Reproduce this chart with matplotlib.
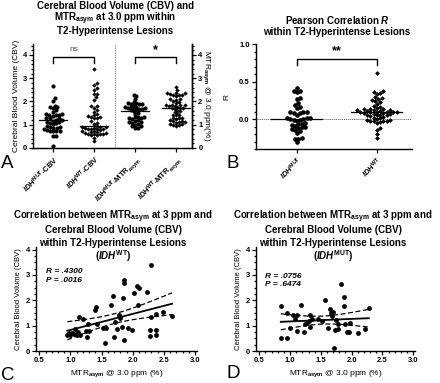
import numpy as np
import matplotlib
matplotlib.use("Agg")
import matplotlib.pyplot as plt
from matplotlib.ticker import MultipleLocator, FormatStrFormatter

plt.rcParams['font.family'] = ['Liberation Sans', 'DejaVu Sans']
plt.rcParams['font.weight'] = 'bold'
plt.rcParams['mathtext.fontset'] = 'custom'
plt.rcParams['mathtext.rm'] = 'Liberation Sans:bold'
plt.rcParams['mathtext.it'] = 'Liberation Sans:bold:italic'
plt.rcParams['mathtext.bf'] = 'Liberation Sans:bold'

# IDH wild type lesions: MTRasym (%) vs CBV
wt_mtr = [0.95, 0.97, 1.00, 1.02, 1.05, 1.08, 1.10, 1.12, 1.15, 1.14, 1.20, 1.25, 1.27,
          1.28, 1.30, 1.40, 1.41, 1.43, 1.52, 1.55, 1.57, 1.68, 1.65, 1.70, 1.72, 1.74,
          1.78, 1.79, 1.82, 1.84, 1.86, 1.86, 1.86, 1.93, 1.98, 2.02, 2.06, 2.10, 2.09,
          2.22, 2.29, 2.30, 2.28, 2.28, 2.37, 2.37, 2.37, 2.49, 2.63]
wt_cbv = [0.62, 0.70, 0.65, 0.72, 0.68, 0.88, 0.62, 0.75, 0.62, 1.35, 1.28, 0.80, 0.55,
          1.05, 0.78, 1.62, 1.72, 1.08, 0.92, 0.32, 0.90, 2.18, 1.80, 0.55, 1.15, 0.85,
          1.42, 1.30, 0.95, 2.07, 2.80, 2.70, 0.45, 0.92, 0.82, 2.30, 2.58, 2.50, 1.80,
          2.33, 3.40, 1.35, 0.83, 0.60, 0.83, 0.65, 1.44, 1.55, 1.38]

# IDH mutant lesions: MTRasym (%) vs CBV
mut_mtr = [0.85, 0.85, 0.95, 0.95, 1.00, 1.05, 1.08, 1.12, 1.12, 1.18, 1.22, 1.25, 1.28,
           1.30, 1.33, 1.35, 1.32, 1.45, 1.52, 1.57, 1.62, 1.65, 1.67, 1.68, 1.70, 1.72,
           1.73, 1.75, 1.78, 1.78, 1.83, 1.87, 1.88, 1.90, 1.92, 1.95, 1.98, 2.10, 2.22, 2.28]
mut_cbv = [1.77, 0.50, 0.52, 1.48, 0.92, 1.42, 1.28, 1.40, 0.77, 1.82, 0.75, 1.05, 1.10,
           1.20, 1.40, 1.28, 0.95, 1.28, 1.18, 2.02, 0.92, 1.65, 1.48, 1.38, 1.55, 0.10,
           0.82, 1.22, 0.88, 1.08, 2.65, 2.13, 1.77, 1.08, 0.75, 0.75, 1.10, 0.72, 0.88, 1.70]

# Pearson R per patient
r_mut = [0.41, 0.37, 0.36, 0.38, 0.28, 0.27, 0.21, 0.19, 0.16, 0.15, 0.10, 0.08, 0.06, 0.09,
         0.08, 0.10, 0.01, 0.00, -0.01, 0.02, -0.01, 0.00, 0.01, -0.02, -0.05, -0.08, -0.10,
         -0.12, -0.07, -0.09, -0.13, -0.11, -0.14, -0.06, -0.18, -0.16, -0.26, -0.27, -0.25, -0.31]
r_wt = [0.62, 0.36, 0.35, 0.37, 0.34, 0.30, 0.28, 0.27, 0.25, 0.24, 0.23, 0.20, 0.18, 0.16,
        0.15, 0.14, 0.13, 0.12, 0.12, 0.11, 0.10, 0.10, 0.10, 0.09, 0.09, 0.08, 0.08, 0.07,
        0.06, 0.06, 0.05, 0.05, 0.04, 0.03, 0.02, 0.01, 0.00, -0.01, -0.02, -0.02, -0.03,
        -0.03, -0.04, -0.05, -0.12, -0.15, -0.20, -0.25, 0.13, 0.11, 0.09, 0.07, 0.12, -0.01]

a_labels = [r"$\mathit{IDH}^{\mathrm{MUT}}$-CBV", r"$\mathit{IDH}^{\mathrm{WT}}$-CBV",
            r"$\mathit{IDH}^{\mathrm{MUT}}$-MTR$_{\mathrm{asym}}$",
            r"$\mathit{IDH}^{\mathrm{WT}}$-MTR$_{\mathrm{asym}}$"]
b_labels = [r"$\mathit{IDH}^{\mathrm{MUT}}$", r"$\mathit{IDH}^{\mathrm{WT}}$"]

W, H = 440, 383
fig = plt.figure(figsize=(W / 100, H / 100), dpi=100)


def box(l, t, r, b):
    return [l / W, 1 - b / H, (r - l) / W, (b - t) / H]


def style(ax, fs=5.5):
    ax.spines['top'].set_visible(False)
    ax.spines['right'].set_visible(False)
    for s in ax.spines.values():
        s.set_linewidth(1.0)
    ax.tick_params(which='both', direction='out', width=0.9, labelsize=fs, pad=1.5)
    ax.tick_params(which='major', length=3)
    ax.tick_params(which='minor', length=1.6)


def swarm(ax, x0, vals, d):
    vals = np.asarray(vals, float)
    pts = ax.transData.transform(np.column_stack([np.full(len(vals), x0), vals]))
    placed = []
    xs = np.zeros(len(vals))
    for i in np.argsort(vals):
        px, py = pts[i]
        cx = px
        for k in range(60):
            ok = False
            for s in ([0] if k == 0 else [k, -k]):
                cx = px + s * d * 0.5
                if all((cx - qx) ** 2 + (py - qy) ** 2 >= d * d for qx, qy in placed):
                    ok = True
                    break
            if ok:
                break
        placed.append((cx, py))
        xs[i] = cx
    return ax.transData.inverted().transform(np.column_stack([xs, pts[:, 1]]))[:, 0]


def bracket(ax, x1, x2, y, drop, txt, ty, fs, weight='bold', color='k'):
    ax.plot([x1, x1, x2, x2], [y - drop, y, y, y - drop], color='k', lw=1.0, clip_on=False)
    ax.text((x1 + x2) / 2, ty, txt, ha='center', va='center', fontsize=fs,
            fontweight=weight, color=color)


def title_lines(xc, lines, ys):
    for txt, y in zip(lines, ys):
        fig.text(xc / W, 1 - y / H, txt, ha='center', va='center', fontsize=7,
                 fontweight='bold')


# ---- A ----
axA = fig.add_axes(box(33, 44, 192, 148))
axA.set_xlim(-0.49, 3.39)
axA.set_ylim(0, 4.47)
style(axA)
axA.spines['right'].set_visible(True)
axA.set_yticks(range(5))
axA.yaxis.set_minor_locator(MultipleLocator(0.2))
axA.set_xticks(range(4))
axA.set_xticklabels(a_labels, rotation=45, ha='right', rotation_mode='anchor', fontsize=5.5)
axA.set_ylabel("Cerebral Blood Volume (CBV)", fontsize=6, labelpad=2)
axA2 = axA.twinx()
axA2.set_ylim(0, 4.47)
axA2.spines['top'].set_visible(False)
axA2.spines['left'].set_visible(False)
axA2.spines['right'].set_linewidth(1.0)
axA2.set_yticks(range(5))
axA2.yaxis.set_minor_locator(MultipleLocator(0.2))
axA2.tick_params(which='both', direction='out', width=0.9, labelsize=5.5, pad=1.5)
axA2.tick_params(which='major', length=3)
axA2.tick_params(which='minor', length=1.6)
axA2.set_ylabel(r"MTR$_{\mathrm{asym}}$ @ 3.0 ppm(%)", fontsize=6, rotation=270, labelpad=7)
axA.axvline(1.5, color='#9a9a9a', lw=0.8, ls=(0, (1, 0.6)))

groups = [mut_cbv, wt_cbv, mut_mtr, wt_mtr]
markers = ['o', 'D', 'o', 'D']
sizes = [9, 5, 9, 5]
for i, g in enumerate(groups):
    xs = swarm(axA, i, g, 2.9)
    axA.scatter(xs, g, s=sizes[i], marker=markers[i], color='k', lw=0, zorder=3)
    m = np.median(g)
    axA.plot([i - 0.34, i + 0.34], [m, m], color='k', lw=0.9, zorder=4)
bracket(axA, 0, 1, 3.9, 0.25, "ns", 4.22, 6, weight='normal', color='#555555')
bracket(axA, 2, 3, 3.9, 0.25, "*", 4.2, 9)

# ---- B ----
axB = fig.add_axes(box(256, 44, 412, 149))
axB.set_xlim(-0.51, 1.44)
axB.set_ylim(-0.4, 1.0)
style(axB)
axB.set_yticks([0, 0.5, 1.0])
axB.yaxis.set_major_formatter(FormatStrFormatter('%.1f'))
axB.yaxis.set_minor_locator(MultipleLocator(0.1))
axB.set_xticks([0, 1])
axB.set_xticklabels(b_labels, rotation=45, ha='right', rotation_mode='anchor', fontsize=5.5)
axB.set_ylabel("R", fontsize=6, labelpad=6)
axB.axhline(0, color='#555555', lw=0.7, ls=(0, (1, 1)))
for i, (g, mk, sz) in enumerate([(r_mut, 'o', 11), (r_wt, 'D', 6)]):
    xs = swarm(axB, i, g, 3.3)
    axB.scatter(xs, g, s=sz, marker=mk, color='k', lw=0, zorder=3)
    m = np.median(g)
    axB.plot([i - 0.32, i + 0.32], [m, m], color='k', lw=0.9, zorder=4)
bracket(axB, 0, 1, 0.8, 0.08, "**", 0.9, 9)


# ---- C & D ----
def corr_panel(ax, x, y, rtxt, ptxt, ty):
    x = np.asarray(x)
    y = np.asarray(y)
    ax.set_xlim(0.447, 3.03)
    ax.set_ylim(0, 4.1)
    style(ax)
    ax.set_xticks(np.arange(0.5, 3.01, 0.5))
    ax.xaxis.set_major_formatter(FormatStrFormatter('%.1f'))
    ax.xaxis.set_minor_locator(MultipleLocator(0.1))
    ax.set_yticks(range(5))
    ax.yaxis.set_minor_locator(MultipleLocator(0.25))
    ax.set_xlabel(r"MTR$_{\mathrm{asym}}$ @ 3.0 ppm (%)", fontsize=6, labelpad=3)
    ax.set_ylabel("Cerebral Blood Volume (CBV)", fontsize=5.5, labelpad=2.5)
    ax.scatter(x, y, s=12, color='k', lw=0, zorder=3, clip_on=False)
    n = len(x)
    b1, b0 = np.polyfit(x, y, 1)
    xx = np.linspace(x.min(), x.max(), 50)
    yy = b0 + b1 * xx
    res = y - (b0 + b1 * x)
    s = np.sqrt(np.sum(res ** 2) / (n - 2))
    se = s * np.sqrt(1 / n + (xx - x.mean()) ** 2 / np.sum((x - x.mean()) ** 2))
    ax.plot(xx, yy, color='k', lw=1.3, zorder=4)
    ax.plot(xx, yy + 2.01 * se, color='k', lw=0.9, ls=(0, (4, 2)), zorder=4)
    ax.plot(xx, yy - 2.01 * se, color='k', lw=0.9, ls=(0, (4, 2)), zorder=4)
    ax.text(0.6, ty, rtxt, fontsize=6, style='italic', va='center')
    ax.text(0.6, ty - 0.33, ptxt, fontsize=6, style='italic', va='center')


axC = fig.add_axes(box(36, 247, 197, 351))
corr_panel(axC, wt_mtr, wt_cbv, "R = .4300", "P = .0016", 3.12)
axD = fig.add_axes(box(256, 247, 415, 351))
corr_panel(axD, mut_mtr, mut_cbv, "R = .0756", "P = .6474", 2.95)

# ---- titles and panel letters ----
title_lines(115, ["Cerebral Blood Volume (CBV) and",
                  r"MTR$_{\mathrm{asym}}$ at 3.0 ppm within",
                  "T2-Hyperintense Lesions"], [6, 19, 31])
title_lines(337, [r"Pearson Correlation $\mathit{R}$",
                  "within T2-Hyperintense Lesions"], [20, 32])
c_lines = [r"Correlation between MTR$_{\mathrm{asym}}$ at 3 ppm and",
           "Cerebral Blood Volume (CBV)", "within T2-Hyperintense Lesions"]
title_lines(113, c_lines + [r"($\mathit{IDH}^{\mathrm{WT}}$)"], [217, 230, 243, 256])
title_lines(333, c_lines + [r"($\mathit{IDH}^{\mathrm{MUT}}$)"], [217, 230, 243, 256])

lkw = dict(fontsize=13.5, fontweight='normal', ha='left', va='center')
fig.text(1 / W, 1 - 163 / H, "A", **lkw)
fig.text(227 / W, 1 - 163 / H, "B", **lkw)
fig.text(1 / W, 1 - 375 / H, "C", **lkw)
fig.text(226 / W, 1 - 374 / H, "D", **lkw)

fig.savefig("out.png", dpi=100)
